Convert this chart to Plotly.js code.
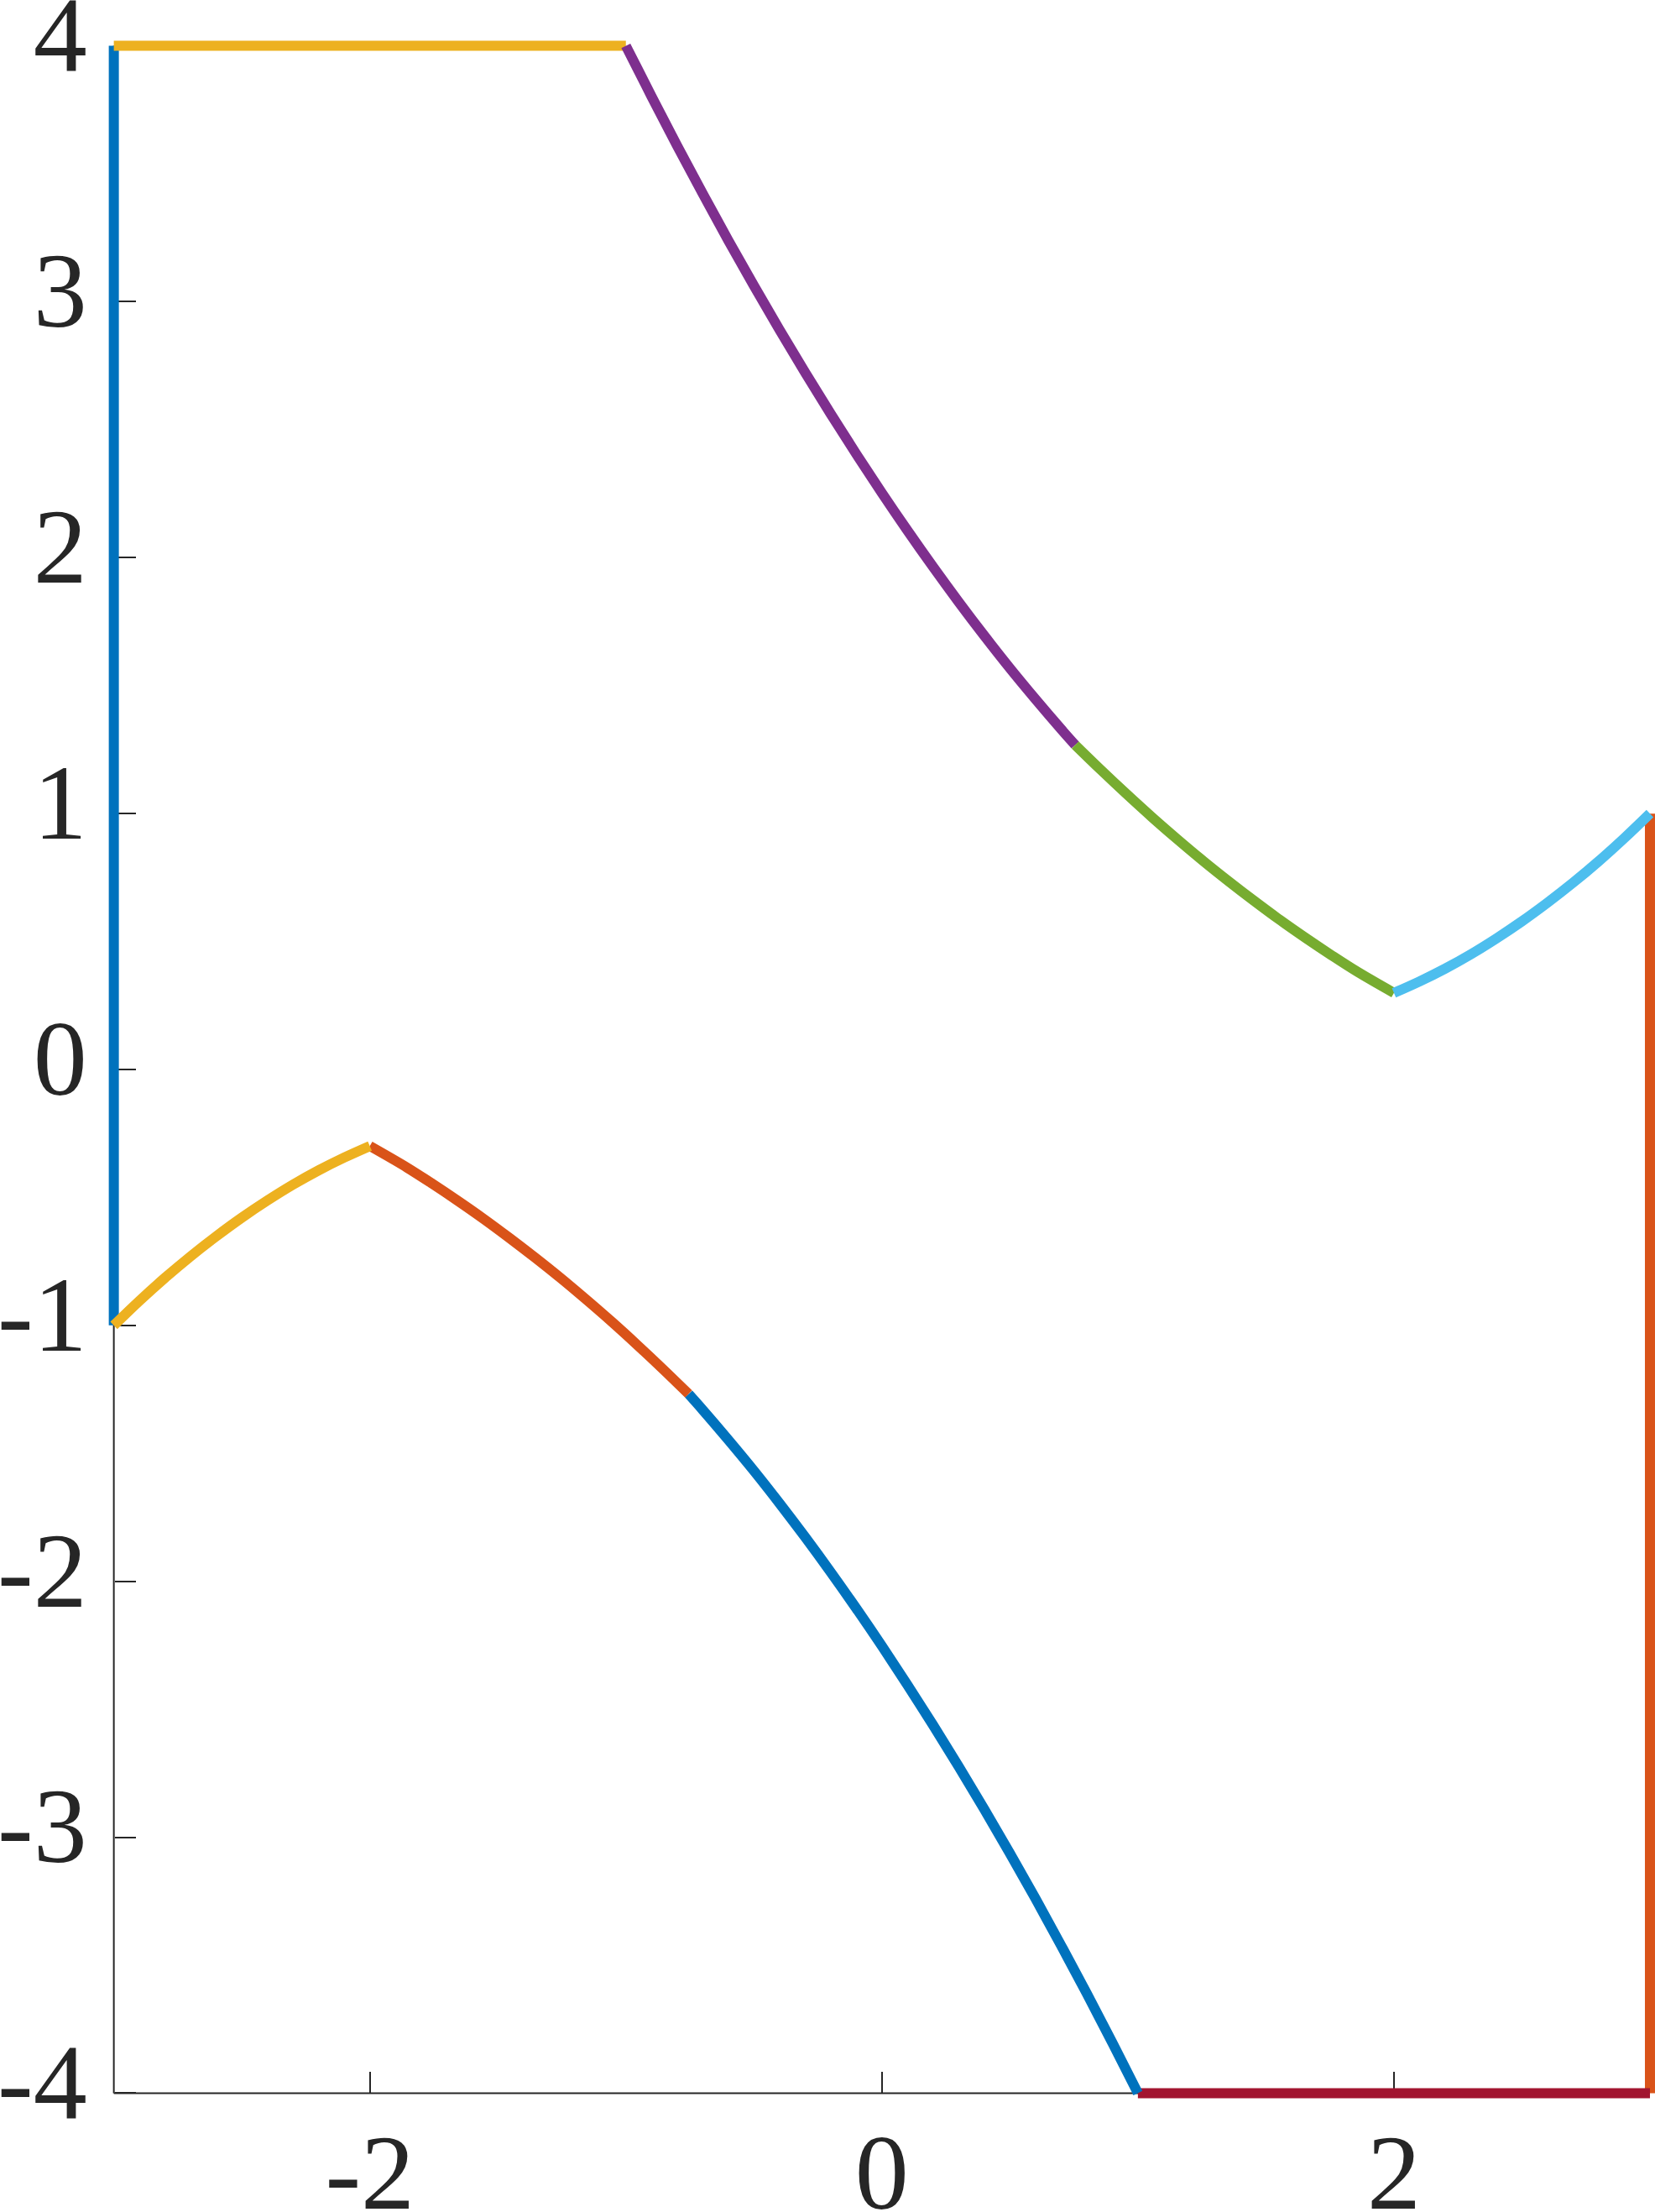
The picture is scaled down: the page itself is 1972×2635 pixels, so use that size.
<!DOCTYPE html>
<html>
<head>
<meta charset="utf-8">
<script src="https://cdn.plot.ly/plotly-3.0.1.min.js"></script>
<style>
  html, body { margin: 0; padding: 0; background: #ffffff; }
  #chart { width: 1972px; height: 2635px; }
</style>
</head>
<body>
<div id="chart"></div>
<script>
// ---- data ----
const leftEdgeX = [-3, -3];
const leftEdgeY = [-1, 4];

const rightEdgeX = [3, 3];
const rightEdgeY = [1, -4];

const topEdgeX = [-3, -1];
const topEdgeY = [4, 4];

const upperCurveX = [-1.0, -0.9, -0.8, -0.7, -0.6, -0.5, -0.4, -0.3, -0.2, -0.1, 0.0, 0.1, 0.2, 0.3, 0.4, 0.5, 0.6, 0.7, 0.755];
const upperCurveY = [4.0, 3.803, 3.610, 3.423, 3.240, 3.063, 2.891, 2.724, 2.562, 2.405, 2.253, 2.106, 1.964, 1.827, 1.695, 1.568, 1.447, 1.330, 1.268];

const midRightX = [0.755, 0.855, 0.955, 1.055, 1.155, 1.255, 1.355, 1.455, 1.555, 1.655, 1.755, 1.855, 2.0];
const midRightY = [1.268, 1.171, 1.077, 0.986, 0.899, 0.815, 0.735, 0.658, 0.584, 0.514, 0.447, 0.383, 0.299];

const cornerRightX = [2.0, 2.1, 2.2, 2.3, 2.4, 2.5, 2.6, 2.7, 2.8, 2.9, 3.0];
const cornerRightY = [0.299, 0.344, 0.394, 0.450, 0.512, 0.579, 0.652, 0.730, 0.814, 0.904, 1.0];

const bottomEdgeX = [1, 3];
const bottomEdgeY = [-4, -4];

const lowerCurveX = [1.0, 0.9, 0.8, 0.7, 0.6, 0.5, 0.4, 0.3, 0.2, 0.1, 0.0, -0.1, -0.2, -0.3, -0.4, -0.5, -0.6, -0.7, -0.755];
const lowerCurveY = [-4.0, -3.803, -3.610, -3.423, -3.240, -3.063, -2.891, -2.724, -2.562, -2.405, -2.253, -2.106, -1.964, -1.827, -1.695, -1.568, -1.447, -1.330, -1.268];

const midLeftX = [-0.755, -0.855, -0.955, -1.055, -1.155, -1.255, -1.355, -1.455, -1.555, -1.655, -1.755, -1.855, -2.0];
const midLeftY = [-1.268, -1.171, -1.077, -0.986, -0.899, -0.815, -0.735, -0.658, -0.584, -0.514, -0.447, -0.383, -0.299];

const cornerLeftX = [-2.0, -2.1, -2.2, -2.3, -2.4, -2.5, -2.6, -2.7, -2.8, -2.9, -3.0];
const cornerLeftY = [-0.299, -0.344, -0.394, -0.450, -0.512, -0.579, -0.652, -0.730, -0.814, -0.904, -1.0];

const xTickVals = [-2, 0, 2];
const xTickText = ['-2', '0', '2'];
const yTickVals = [-4, -3, -2, -1, 0, 1, 2, 3, 4];
const yTickText = ['-4', '-3', '-2', '-1', '0', '1', '2', '3', '4'];

// ---- styling ----
const COLORS = ['#0072BD', '#D95319', '#EDB120', '#7E2F8E', '#77AC30', '#4DBEEE', '#A2142F'];
const LW = 12;
const INK = '#262626';

function seg(x, y, color, curved) {
  return {
    type: 'scatter', mode: 'lines', x: x, y: y,
    line: { color: color, width: LW, shape: curved ? 'spline' : 'linear', smoothing: 1, simplify: false },
    hoverinfo: 'skip', showlegend: false
  };
}

const traces = [
  seg(leftEdgeX, leftEdgeY, COLORS[0], false),
  seg(rightEdgeX, rightEdgeY, COLORS[1], false),
  seg(topEdgeX, topEdgeY, COLORS[2], false),
  seg(upperCurveX, upperCurveY, COLORS[3], true),
  seg(midRightX, midRightY, COLORS[4], true),
  seg(cornerRightX, cornerRightY, COLORS[5], true),
  seg(bottomEdgeX, bottomEdgeY, COLORS[6], false),
  seg(lowerCurveX, lowerCurveY, COLORS[0], true),
  seg(midLeftX, midLeftY, COLORS[1], true),
  seg(cornerLeftX, cornerLeftY, COLORS[2], true)
];

const xRange = [-3.025, 3.0197];
const yRange = [-4.025, 4.025];

const tickFont = { family: 'Liberation Serif, DejaVu Serif, serif', size: 128, color: INK };

const layout = {
  width: 1972, height: 2635,
  margin: { l: 128, r: 0, t: 47, b: 134, pad: 0 },
  paper_bgcolor: '#ffffff', plot_bgcolor: '#ffffff',
  showlegend: false,
  xaxis: {
    range: xRange, anchor: 'free',
    position: (-4 - yRange[0]) / (yRange[1] - yRange[0]),
    showgrid: false, zeroline: false, showline: false,
    ticks: 'inside', ticklen: 25, tickwidth: 2, tickcolor: INK,
    tickmode: 'array', tickvals: xTickVals, ticktext: xTickText,
    tickfont: tickFont, ticklabelstandoff: 9, ticklabeloverflow: 'allow',
    layer: 'below traces', fixedrange: true
  },
  yaxis: {
    range: yRange, anchor: 'free',
    position: (-3 - xRange[0]) / (xRange[1] - xRange[0]),
    showgrid: false, zeroline: false, showline: false,
    ticks: 'inside', ticklen: 25, tickwidth: 2, tickcolor: INK,
    tickmode: 'array', tickvals: yTickVals, ticktext: yTickText,
    tickfont: tickFont, ticklabelstandoff: 32, ticklabelshift: -15, ticklabeloverflow: 'allow',
    layer: 'below traces', fixedrange: true
  },
  shapes: [
    { type: 'line', xref: 'x', yref: 'y', x0: -3, x1: 3, y0: -4, y1: -4,
      line: { color: INK, width: 2 }, layer: 'below' },
    { type: 'line', xref: 'x', yref: 'y', x0: -3, x1: -3, y0: -4, y1: 4,
      line: { color: INK, width: 2 }, layer: 'below' }
  ]
};

Plotly.newPlot('chart', traces, layout, { staticPlot: true, displayModeBar: false });
</script>
</body>
</html>
